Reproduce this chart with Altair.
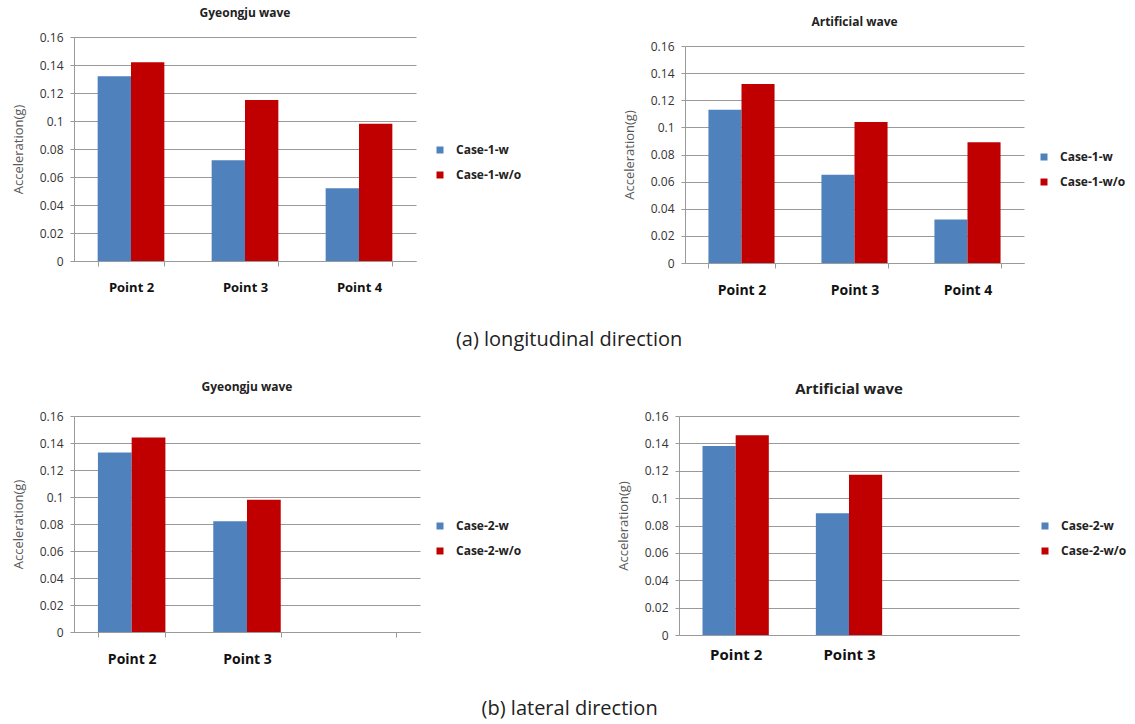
import altair as alt
import pandas as pd

# Peak acceleration (g) at each measuring point, with / without the device
points_long = ["Point 2", "Point 3", "Point 4"]
gy_long_w = [0.132, 0.072, 0.052]
gy_long_wo = [0.142, 0.115, 0.098]
art_long_w = [0.113, 0.065, 0.032]
art_long_wo = [0.132, 0.104, 0.089]

points_lat = ["Point 2", "Point 3"]
gy_lat_w = [0.133, 0.082]
gy_lat_wo = [0.144, 0.098]
art_lat_w = [0.138, 0.089]
art_lat_wo = [0.146, 0.117]

cases_1 = ["Case-1-w", "Case-1-w/o"]
cases_2 = ["Case-2-w", "Case-2-w/o"]
y_ticks = [0, 0.02, 0.04, 0.06, 0.08, 0.1, 0.12, 0.14, 0.16]

BLUE = "#4F81BD"
RED = "#C00000"
GRID = "#9a9a9a"
FONT = "Open Sans"


def table(points, w, wo, cases):
    rows = []
    for p, a, b in zip(points, w, wo):
        rows.append({"point": p, "case": cases[0], "value": a})
        rows.append({"point": p, "case": cases[1], "value": b})
    return pd.DataFrame(rows)


def panel(points, domain, w, wo, cases, title, width, height,
          title_size=12, title_offset=9, xlab_size=13, x_ticks=True,
          label_pad=15, legend_x=18, legend_y=107, top_gap=0):
    df = table(points, w, wo, cases)
    y_scale = alt.Scale(domain=[0, 0.16], nice=False)
    if top_gap:
        # leave a strip above the value axis so this plot sits lower than its neighbour
        y_scale = alt.Scale(domain=[0, 0.16], nice=False, range=[height, top_gap])
    return (
        alt.Chart(df, title=alt.TitleParams(title, fontSize=title_size, fontWeight="bold",
                                            font=FONT, color="#222", offset=title_offset))
        .mark_bar()
        .encode(
            x=alt.X("point:N", title=None,
                    scale=alt.Scale(domain=domain, paddingInner=0.415, paddingOuter=0.2075),
                    axis=alt.Axis(labelAngle=0, labelFontSize=xlab_size, labelFontWeight="bold",
                                  labelColor="#111", labelFont=FONT, domainColor=GRID,
                                  tickColor=GRID, tickBand="extent", ticks=x_ticks,
                                  tickSize=5, labelPadding=label_pad, grid=False)),
            xOffset=alt.XOffset("case:N",
                                scale=alt.Scale(domain=cases, paddingInner=0, paddingOuter=0)),
            y=alt.Y("value:Q", title="Acceleration(g)", scale=y_scale,
                    axis=alt.Axis(values=y_ticks, format="~g", labelFontSize=12,
                                  labelColor="#333", labelFont=FONT, gridColor=GRID,
                                  domainColor=GRID, tickColor=GRID, tickSize=4,
                                  labelPadding=7, titleFontSize=13, titleFontWeight="normal",
                                  titleColor="#595959", titleFont=FONT, titlePadding=14)),
            color=alt.Color("case:N", scale=alt.Scale(domain=cases, range=[BLUE, RED]),
                            legend=alt.Legend(title=None, orient="none",
                                              legendX=width + legend_x, legendY=legend_y,
                                              symbolType="square", symbolSize=49,
                                              symbolStrokeWidth=0, labelFontSize=12,
                                              labelFontWeight="bold", labelFont=FONT,
                                              labelColor="#222", rowPadding=13,
                                              labelOffset=10)),
        )
        .properties(width=width, height=height)
    )


p1 = panel(points_long, points_long, gy_long_w, gy_long_wo, cases_1,
           "Gyeongju wave", 342, 224, title_offset=11, legend_y=107)
p2 = panel(points_long, points_long, art_long_w, art_long_wo, cases_1,
           "Artificial wave", 339, 226, xlab_size=14, legend_x=14, legend_y=114,
           title_offset=8, top_gap=9)
p3 = panel(points_lat, points_lat + [" "], gy_lat_w, gy_lat_wo, cases_2,
           "Gyeongju wave", 346, 216, title_offset=16, xlab_size=14, legend_x=14,
           legend_y=104)
p4 = panel(points_lat, points_lat + [" "], art_lat_w, art_lat_wo, cases_2,
           "Artificial wave", 340, 219, title_size=15, title_offset=13, xlab_size=15,
           x_ticks=False, label_pad=12, legend_x=20, legend_y=104)

caption = dict(orient="bottom", fontSize=20, fontWeight="normal", font=FONT,
               color="#222", anchor="middle", offset=33)

row1 = (alt.hconcat(p1, p2, spacing=101)
        .resolve_scale(color="independent", xOffset="independent")
        .properties(title=alt.TitleParams("(a) longitudinal direction", **caption)))
row2 = (alt.hconcat(p3, p4, spacing=95)
        .resolve_scale(color="independent", xOffset="independent")
        .properties(title=alt.TitleParams("(b) lateral direction", **caption)))

chart = (
    alt.vconcat(row1, row2, spacing=31)
    .resolve_scale(color="independent", xOffset="independent")
    .properties(padding={"left": 12, "top": 7, "right": 2, "bottom": 2}, background="white")
    .configure_view(stroke=None)
)

chart.save("out.html", embed_options={"renderer": "svg", "actions": False})
